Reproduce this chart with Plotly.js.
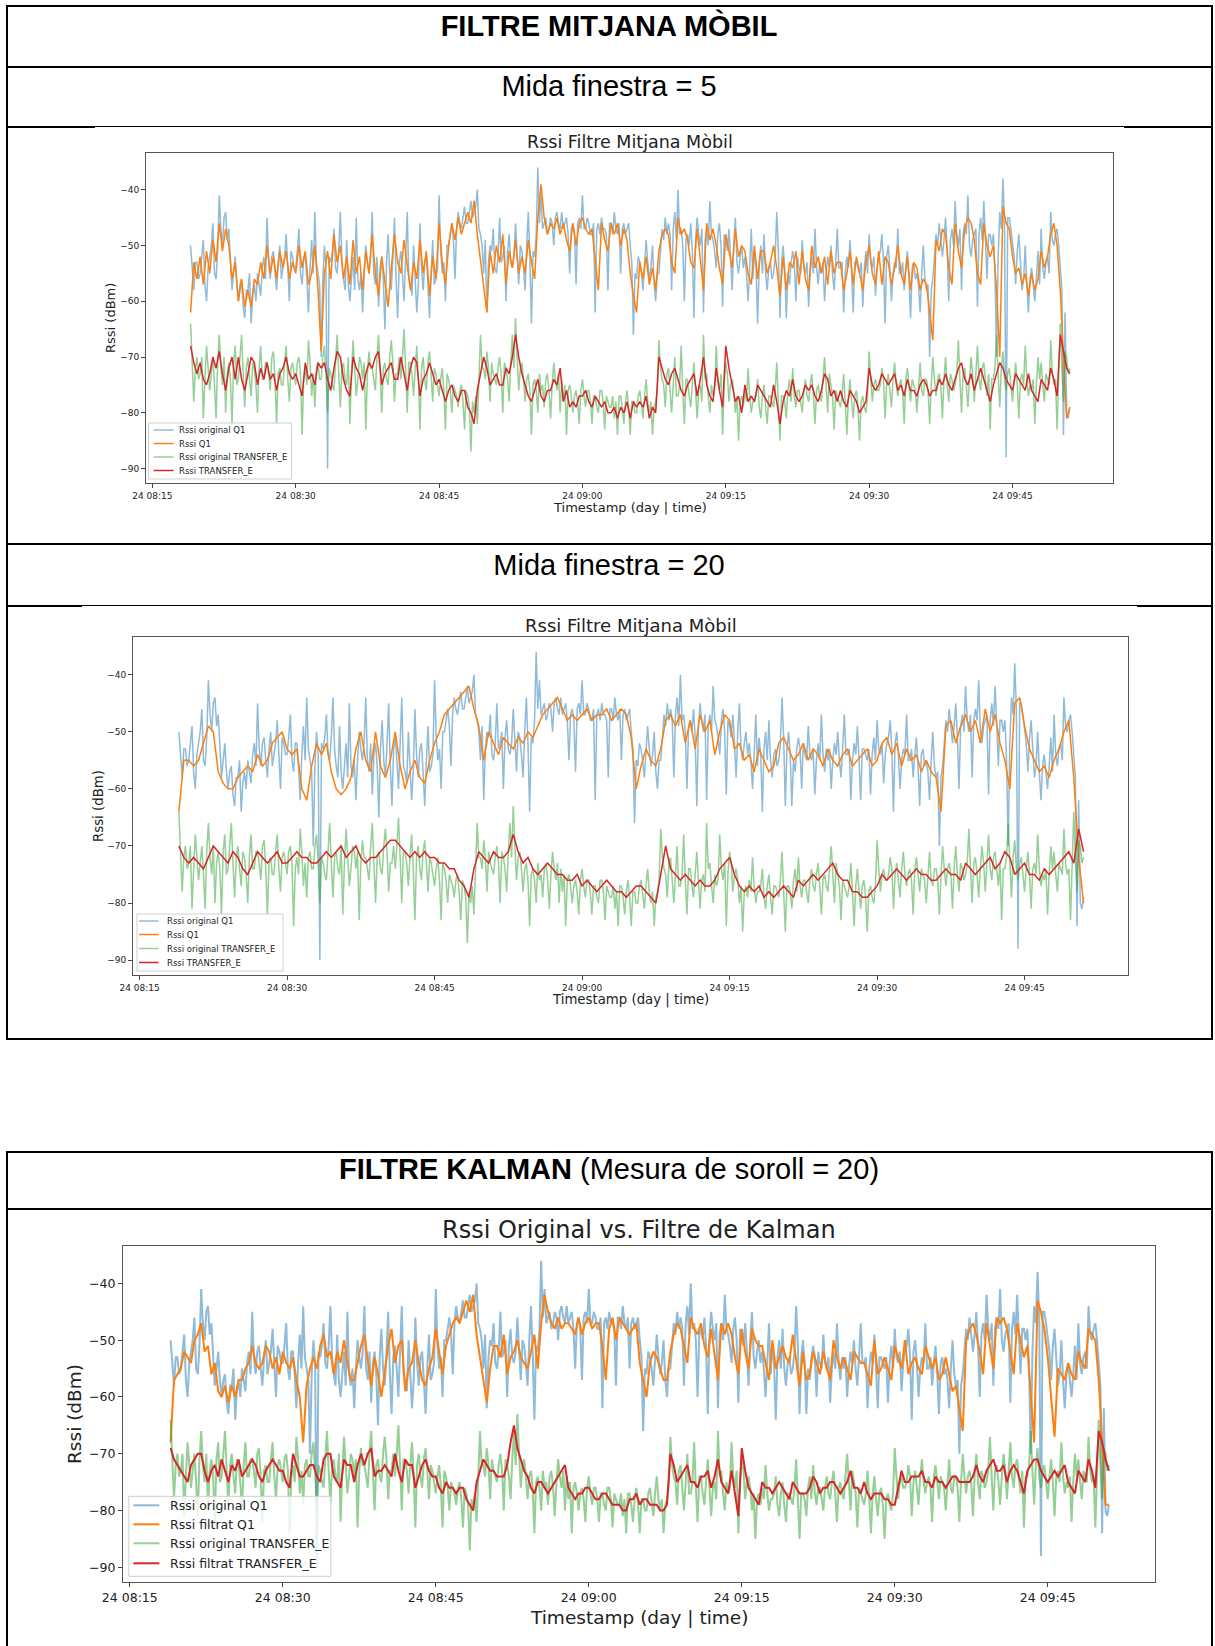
<!DOCTYPE html>
<html>
<head>
<meta charset="utf-8">
<script src="https://cdn.plot.ly/plotly-3.0.1.min.js"></script>
<style>
  body { margin: 0; background: #fff; }
  #page { position: relative; width: 1215px; height: 1646px; overflow: hidden; background: #fff; }
  .ln { position: absolute; background: #000; }
  .hdr { position: absolute; left: 8px; width: 1202px; text-align: center; white-space: nowrap;
         font-family: "Liberation Sans", Arial, sans-serif; font-size: 29px; line-height: 32px; color: #000; }
  .chart { position: absolute; }
</style>
</head>
<body>
<div id="page">
  <!-- table 1: moving average filter -->
  <div class="ln" style="left:6px;top:5px;width:1207px;height:2px"></div>
  <div class="ln" style="left:6px;top:66px;width:1207px;height:2px"></div>
  <div class="ln" style="left:6px;top:126px;width:89px;height:2px"></div>
  <div class="ln" style="left:95px;top:126px;width:1029px;height:1px"></div>
  <div class="ln" style="left:1124px;top:126px;width:89px;height:2px"></div>
  <div class="ln" style="left:6px;top:543px;width:1207px;height:2px"></div>
  <div class="ln" style="left:6px;top:605px;width:76px;height:2px"></div>
  <div class="ln" style="left:82px;top:605px;width:1055px;height:1px"></div>
  <div class="ln" style="left:1137px;top:605px;width:76px;height:2px"></div>
  <div class="ln" style="left:6px;top:1038px;width:1207px;height:2px"></div>
  <div class="ln" style="left:6px;top:5px;width:2px;height:1035px"></div>
  <div class="ln" style="left:1211px;top:5px;width:2px;height:1035px"></div>

  <div class="hdr" style="top:10px;font-weight:bold">FILTRE MITJANA MÒBIL</div>
  <div class="hdr" style="top:70px">Mida finestra = 5</div>
  <div class="hdr" style="top:549px">Mida finestra = 20</div>

  <div id="chartMM5" class="chart" style="left:95px;top:128px;width:1029px;height:412px"></div>
  <div id="chartMM20" class="chart" style="left:82px;top:607px;width:1055px;height:430px"></div>

  <!-- table 2: Kalman filter -->
  <div class="ln" style="left:6px;top:1151px;width:1207px;height:2px"></div>
  <div class="ln" style="left:6px;top:1208px;width:1207px;height:2px"></div>
  <div class="ln" style="left:6px;top:1151px;width:2px;height:495px"></div>
  <div class="ln" style="left:1211px;top:1151px;width:2px;height:495px"></div>

  <div class="hdr" style="top:1153px"><b>FILTRE KALMAN</b> (Mesura de soroll = 20)</div>

  <div id="chartKalman" class="chart" style="left:30px;top:1211px;width:1170px;height:435px"></div>
</div>

<script>
// RSSI (dBm). Raw readings: one sample every 10 s from 24 08:19:00, one row per minute.
const rawQ1 = [
  -50,-55,-58,-53,-53,-56, -55,-52,-49,-57,-60,-54, -52,-50,-46,-55,-56,-51, -41,-47,-50,-45,-44,-49, -47,-53,-58,-55,-52,-57,
  -60,-57,-56,-61,-63,-58, -58,-55,-64,-59,-57,-60, -55,-57,-59,-54,-52,-56, -45,-53,-56,-52,-51,-55, -58,-53,-50,-56,-54,-52,
  -48,-53,-60,-51,-52,-54, -54,-51,-47,-55,-57,-52, -52,-56,-62,-54,-49,-55, -44,-53,-55,-57,-70,-56, -50,-54,-90,-52,-53,-51,
  -47,-54,-55,-51,-44,-53, -56,-58,-49,-57,-60,-55, -52,-58,-45,-56,-58,-55, -62,-55,-50,-53,-55,-52, -44,-55,-57,-52,-61,-54,
  -52,-56,-65,-53,-48,-55, -58,-52,-45,-56,-63,-53, -51,-55,-60,-52,-44,-56, -57,-59,-50,-56,-62,-57, -46,-54,-58,-53,-52,-57,
  -63,-55,-49,-57,-56,-54, -41,-51,-55,-53,-60,-50, -50,-48,-46,-49,-56,-47, -44,-46,-47,-45,-43,-46, -46,-44,-42,-45,-44,-43,
  -40,-47,-48,-50,-55,-49, -62,-53,-50,-51,-47,-54, -55,-52,-45,-53,-52,-50, -60,-51,-48,-53,-54,-52, -46,-52,-57,-50,-51,-54,
  -58,-50,-44,-52,-64,-51, -52,-48,-36,-46,-41,-47, -46,-45,-48,-47,-45,-46, -50,-45,-44,-46,-47,-44, -47,-46,-45,-48,-55,-47,
  -46,-48,-57,-46,-45,-47, -41,-47,-47,-45,-46,-48, -48,-46,-62,-47,-46,-48, -45,-47,-47,-48,-58,-46, -46,-48,-44,-47,-48,-46,
  -55,-47,-46,-48,-47,-46, -50,-53,-66,-55,-56,-52, -53,-55,-58,-54,-49,-53, -56,-54,-50,-57,-60,-55, -55,-51,-47,-49,-45,-48,
  -46,-48,-58,-47,-44,-49, -40,-48,-47,-50,-60,-49, -48,-50,-46,-51,-63,-49, -45,-48,-50,-47,-62,-49, -47,-50,-42,-48,-49,-51,
  -54,-48,-46,-50,-61,-48, -49,-51,-47,-52,-58,-50, -45,-53,-55,-52,-50,-54, -52,-55,-60,-54,-47,-56, -51,-54,-64,-53,-50,-55,
  -48,-55,-58,-54,-53,-56, -55,-52,-44,-51,-63,-53, -50,-54,-63,-55,-57,-53, -51,-53,-60,-52,-54,-55, -49,-54,-55,-53,-61,-55,
  -52,-55,-47,-54,-57,-53, -55,-53,-60,-55,-52,-54, -50,-55,-58,-53,-47,-54, -54,-53,-62,-55,-52,-54, -49,-55,-62,-53,-53,-54,
  -55,-53,-61,-54,-51,-55, -48,-53,-54,-52,-59,-54, -52,-51,-48,-53,-64,-52, -50,-54,-60,-55,-53,-54, -47,-55,-55,-53,-58,-54,
  -51,-56,-63,-54,-53,-56, -55,-57,-62,-55,-50,-56, -58,-57,-70,-58,-56,-52, -48,-50,-46,-49,-52,-49, -45,-51,-60,-49,-47,-50,
  -42,-48,-50,-47,-58,-48, -46,-48,-41,-50,-52,-49, -48,-47,-61,-48,-45,-49, -42,-50,-56,-48,-48,-50, -48,-55,-70,-52,-44,-47,
  -38,-46,-88,-45,-45,-47, -50,-52,-57,-51,-48,-53, -58,-56,-50,-57,-62,-56, -54,-57,-60,-56,-51,-57, -47,-54,-56,-53,-52,-55,
  -44,-49,-50,-48,-47,-50, -55,-58,-84,-62,-80,-81,
  -79
];

const rawTE = [
  -64,-70,-78,-72,-70,-74, -73,-70,-81,-74,-68,-72, -76,-73,-70,-75,-81,-71, -66,-72,-75,-70,-80,-73, -71,-74,-82,-71,-68,-75,
  -74,-70,-66,-73,-79,-72, -70,-74,-77,-71,-72,-75, -80,-72,-68,-74,-74,-71, -71,-73,-76,-70,-69,-74, -82,-73,-72,-75,-75,-71,
  -68,-74,-78,-72,-71,-73, -75,-71,-70,-73,-84,-74, -72,-75,-67,-71,-77,-73, -79,-72,-71,-74,-74,-70, -68,-73,-80,-72,-73,-75,
  -76,-71,-66,-73,-79,-72, -71,-74,-75,-70,-82,-73, -67,-72,-77,-74,-70,-71, -74,-71,-83,-73,-69,-72, -72,-74,-76,-70,-66,-73,
  -80,-72,-71,-74,-75,-70, -67,-71,-78,-73,-73,-70, -74,-70,-65,-72,-80,-71, -71,-73,-77,-72,-68,-74, -83,-72,-70,-74,-76,-71,
  -69,-73,-78,-72,-73,-75, -77,-74,-72,-76,-83,-73, -74,-76,-80,-75,-76,-77, -79,-76,-75,-78,-83,-76, -77,-79,-87,-78,-80,-77,
  -82,-75,-66,-72,-72,-74, -69,-72,-78,-71,-73,-74, -75,-72,-70,-73,-80,-71, -72,-74,-78,-71,-66,-72, -63,-70,-76,-72,-71,-74,
  -78,-74,-73,-76,-84,-75, -74,-76,-80,-73,-76,-75, -79,-74,-73,-76,-81,-75, -71,-74,-76,-73,-80,-74, -78,-75,-84,-76,-75,-77,
  -80,-77,-76,-78,-82,-76, -74,-77,-79,-76,-76,-78, -82,-77,-77,-79,-80,-76, -76,-78,-83,-77,-78,-79, -79,-77,-81,-78,-84,-77,
  -77,-79,-82,-78,-76,-79, -84,-78,-78,-80,-80,-77, -76,-79,-81,-77,-74,-78, -80,-78,-84,-79,-78,-76, -67,-72,-74,-75,-79,-73,
  -72,-76,-80,-75,-70,-77, -77,-75,-68,-76,-82,-74, -74,-77,-79,-75,-71,-76, -81,-76,-75,-78,-66,-74, -73,-77,-80,-75,-77,-76,
  -68,-74,-76,-73,-84,-75, -71,-73,-78,-75,-74,-76, -80,-77,-85,-78,-77,-79, -76,-78,-72,-77,-80,-78, -78,-77,-74,-79,-81,-77,
  -75,-79,-82,-77,-77,-78, -79,-76,-71,-78,-85,-77, -77,-78,-81,-76,-74,-78, -72,-77,-79,-76,-76,-78, -80,-76,-74,-77,-78,-75,
  -73,-77,-82,-76,-75,-77, -78,-74,-70,-75,-80,-73, -75,-77,-83,-76,-77,-78, -79,-77,-73,-78,-84,-77, -74,-78,-81,-77,-76,-79,
  -85,-78,-77,-79,-80,-77, -69,-74,-78,-75,-74,-76, -76,-75,-72,-74,-81,-75, -73,-76,-79,-74,-71,-75, -77,-75,-74,-76,-82,-74,
  -72,-75,-78,-74,-75,-76, -80,-75,-71,-76,-77,-74, -74,-76,-82,-75,-70,-74, -77,-74,-73,-75,-81,-74, -70,-75,-78,-73,-74,-76,
  -75,-73,-67,-74,-80,-73, -72,-75,-79,-74,-70,-73, -78,-73,-68,-74,-76,-72, -71,-74,-77,-73,-83,-74, -74,-72,-66,-73,-79,-72,
  -69,-74,-76,-73,-72,-75, -78,-74,-71,-75,-81,-74, -73,-75,-68,-74,-77,-75, -76,-74,-82,-75,-70,-74, -71,-75,-78,-73,-74,-75,
  -67,-73,-75,-74,-83,-72, -64,-72,-78,-69,-70,-73,
  -72
];

// Moving average, window 5: one value every 20 s from 24 08:19:00.
const mm5Q1 = [
  -62,-53,-56, -52,-57,-51, -55,-49,-53, -46,-51,-47, -50,-56,-53,
  -60,-56,-61, -58,-61,-56, -57,-53,-56, -50,-55,-52, -56,-51,-54,
  -51,-56,-53, -55,-50,-54, -51,-57,-55, -50,-58,-69, -55,-51,-56,
  -48,-53,-50, -56,-52,-57, -49,-55,-52, -58,-51,-55, -48,-55,-59,
  -52,-57,-61, -54,-48,-53, -55,-49,-54, -58,-53,-56, -49,-55,-51,
  -59,-52,-56, -46,-53,-57, -50,-46,-49, -45,-48,-46, -44,-46,-42,
  -48,-53,-58, -62,-51,-55, -50,-53,-48, -57,-51,-54, -49,-55,-52,
  -55,-49,-53, -56,-45,-39, -45,-48,-46, -47,-45,-48, -46,-49,-51,
  -46,-50,-46, -45,-47,-48, -47,-52,-58, -46,-49,-51, -46,-48,-46,
  -50,-47,-49, -55,-59,-62, -53,-56,-52, -57,-54,-58, -51,-48,-47,
  -48,-53,-55, -45,-48,-47, -49,-53,-54, -47,-52,-58, -46,-49,-47,
  -50,-54,-57, -48,-51,-54, -47,-52,-50, -51,-55,-57, -50,-56,-51,
  -51,-55,-53, -50,-54,-59, -52,-58,-53, -54,-51,-57, -51,-56,-58,
  -50,-54,-52, -55,-52,-57, -51,-55,-53, -53,-58,-55, -51,-57,-52,
  -55,-58,-53, -50,-55,-57, -51,-57,-52, -53,-57,-54, -50,-55,-57,
  -52,-58,-53, -54,-58,-56, -57,-62,-67, -49,-51,-47, -48,-54,-57,
  -46,-51,-54, -47,-45,-46, -49,-55,-57, -46,-50,-52, -50,-58,-70,
  -43,-46,-47, -52,-55,-54, -57,-55,-59, -55,-58,-56, -51,-54,-52,
  -48,-46,-50, -58,-70,-81,
  -79
];

const mm5TE = [
  -68,-71,-73, -71,-74,-75, -73,-70,-72, -69,-73,-76, -72,-70,-74,
  -70,-74,-76, -73,-70,-71, -75,-72,-74, -71,-74,-73, -76,-73,-72,
  -70,-73,-74, -73,-75,-77, -71,-74,-73, -75,-71,-72, -71,-74,-76,
  -72,-69,-70, -74,-76,-77, -70,-72,-73, -76,-73,-71, -72,-70,-69,
  -75,-73,-72, -71,-74,-74, -70,-73,-76, -72,-70,-71, -77,-74,-73,
  -71,-73,-75, -74,-76,-78, -76,-75,-77, -78,-76,-76, -79,-80,-82,
  -76,-73,-70, -72,-75,-74, -73,-75,-75, -72,-73,-70, -66,-70,-73,
  -75,-77,-78, -76,-74,-77, -78,-76,-76, -74,-75,-72, -78,-76,-79,
  -78,-79,-77, -77,-76,-78, -79,-77,-78, -79,-78,-80, -80,-79,-81,
  -79,-80,-78, -81,-78,-79, -78,-79,-77, -81,-79,-80, -70,-72,-74,
  -75,-73,-72, -74,-76,-77, -75,-74,-73, -77,-74,-70, -75,-77,-78,
  -72,-76,-79, -68,-72,-75, -78,-77,-80, -75,-78,-77, -78,-75,-76,
  -77,-78,-79, -75,-78,-82, -78,-76,-77, -74,-77,-78, -77,-75,-76,
  -75,-77,-78, -76,-73,-74, -77,-76,-78, -76,-78,-79, -76,-77,-78,
  -80,-79,-78, -72,-75,-76, -75,-73,-74, -75,-74,-73, -76,-75,-77,
  -74,-76,-76, -77,-75,-74, -75,-77,-76, -76,-74,-75, -73,-75,-76,
  -74,-72,-71, -74,-75,-73, -76,-74,-72, -74,-76,-78, -75,-73,-71,
  -72,-74,-75, -76,-73,-74, -75,-76,-73, -76,-77,-78, -74,-75,-76,
  -72,-74,-77, -66,-69,-72,
  -73
];

// Moving average, window 20: one value every 30 s from 24 08:19:00.
const mm20Q1 = [
  -64,-55, -55,-56, -55,-52, -49,-50, -57,-59,
  -60,-60, -58,-57, -56,-57, -54,-56, -55,-52,
  -51,-50, -53,-54, -53,-60, -62,-56, -52,-54,
  -52,-57, -60,-61, -60,-58, -53,-50, -55,-57,
  -50,-56, -58,-55, -50,-56, -60,-57, -55,-58,
  -59,-55, -52,-50, -47,-46, -45,-44, -43,-42,
  -46,-49, -55,-50, -52,-54, -51,-52, -53,-51,
  -52,-50, -51,-49, -47,-46, -45,-44, -46,-48,
  -47,-48, -47,-46, -48,-47, -47,-46, -48,-47,
  -46,-47, -51,-60, -56,-53, -55,-56, -53,-48,
  -47,-49, -47,-52, -48,-53, -47,-50, -48,-54,
  -50,-47, -48,-53, -52,-55, -54,-57, -53,-55,
  -57,-56, -52,-51, -53,-55, -54,-52, -55,-53,
  -54,-56, -53,-55, -56,-54, -53,-56, -55,-54,
  -53,-56, -55,-52, -51,-54, -52,-56, -53,-55,
  -54,-57, -55,-57, -58,-64, -49,-48, -52,-49,
  -47,-50, -48,-52, -46,-50, -47,-52, -55,-60,
  -45,-44, -49,-53, -55,-57, -56,-58, -55,-53,
  -50,-48, -58,-72,
  -80
];

const mm20TE = [
  -70,-72, -73,-72, -73,-74, -72,-70, -71,-72,
  -73,-71, -72,-74, -75,-73, -71,-72, -73,-72,
  -71,-73, -73,-72, -71,-72, -72,-73, -73,-72,
  -71,-72, -71,-70, -72,-71, -70,-72, -73,-72,
  -72,-71, -70,-69, -69,-70, -71,-72, -71,-72,
  -71,-72, -72,-73, -73,-74, -74,-76, -77,-79,
  -74,-71, -72,-73, -71,-72, -72,-71, -68,-71,
  -73,-72, -74,-75, -74,-73, -74,-75, -75,-76,
  -76,-75, -77,-76, -77,-78, -77,-76, -77,-78,
  -78,-79, -78,-77, -77,-78, -79,-80, -75,-70,
  -74,-75, -76,-75, -76,-77, -76,-77, -77,-76,
  -74,-73, -72,-75, -77,-78, -77,-78, -77,-79,
  -78,-79, -78,-77, -78,-79, -76,-77, -76,-75,
  -76,-75, -74,-73, -75,-76, -76,-78, -78,-79,
  -79,-78, -77,-75, -76,-75, -74,-75, -76,-75,
  -74,-75, -75,-76, -76,-75, -74,-75, -75,-76,
  -73,-74, -75,-74, -73,-72, -74,-73, -71,-72,
  -75,-74, -73,-75, -75,-76, -74,-75, -74,-73,
  -72,-71, -73,-67,
  -71
];

// Kalman filter output: one value every 20 s from 24 08:19:00.
const kalQ1 = [
  -68,-57,-56, -55,-52,-53, -54,-50,-49, -47,-52,-51, -56,-54,-59,
  -60,-58,-61, -58,-60,-57, -57,-55,-54, -51,-54,-55, -54,-51,-52,
  -55,-53,-56, -52,-54,-55, -53,-57,-60, -68,-58,-55, -53,-55,-51,
  -49,-53,-52, -56,-52,-54, -50,-54,-57, -57,-54,-51, -49,-54,-58,
  -53,-56,-60, -55,-51,-48, -54,-51,-50, -59,-55,-54, -50,-54,-57,
  -58,-55,-53, -48,-52,-56, -51,-49,-47, -46,-47,-45, -43,-45,-42,
  -49,-53,-57, -61,-55,-51, -51,-53,-49, -56,-53,-52, -50,-53,-54,
  -55,-52,-49, -55,-47,-42, -45,-47,-48, -46,-48,-47, -47,-48,-49,
  -46,-49,-47, -46,-48,-47, -47,-51,-57, -48,-46,-50, -46,-47,-48,
  -49,-48,-47, -54,-57,-60, -54,-52,-53, -55,-57,-57, -52,-49,-47,
  -48,-51,-54, -46,-48,-49, -47,-51,-53, -48,-53,-57, -47,-49,-47,
  -49,-53,-56, -48,-52,-55, -48,-50,-51, -51,-54,-57, -50,-55,-53,
  -51,-53,-54, -49,-54,-58, -52,-57,-56, -52,-54,-56, -52,-55,-57,
  -50,-53,-55, -53,-55,-57, -52,-53,-54, -54,-56,-58, -50,-56,-55,
  -53,-55,-57, -51,-53,-55, -50,-56,-54, -53,-55,-56, -51,-53,-55,
  -53,-57,-56, -53,-56,-59, -58,-62,-66, -50,-48,-47, -49,-52,-56,
  -47,-51,-55, -46,-47,-46, -48,-52,-56, -47,-50,-53, -51,-60,-68,
  -43,-45,-48, -53,-60,-67, -55,-56,-57, -54,-56,-57, -52,-54,-55,
  -48,-49,-50, -57,-68,-79,
  -79
];

const kalTE = [
  -69,-71,-72, -73,-74,-75, -72,-71,-70, -70,-73,-75, -73,-72,-74,
  -71,-73,-75, -72,-73,-71, -74,-73,-72, -71,-72,-74, -75,-73,-72,
  -71,-72,-73, -73,-75,-76, -70,-72,-74, -74,-73,-72, -72,-74,-75,
  -71,-70,-70, -74,-75,-76, -71,-72,-72, -75,-72,-70, -72,-70,-69,
  -74,-73,-73, -72,-73,-74, -70,-73,-75, -71,-72,-72, -76,-74,-72,
  -71,-73,-74, -74,-76,-77, -75,-76,-76, -77,-76,-76, -78,-79,-80,
  -75,-73,-71, -72,-73,-73, -74,-74,-74, -72,-68,-65, -69,-71,-73,
  -74,-76,-77, -75,-75,-76, -77,-76,-75, -74,-73,-72, -76,-77,-78,
  -77,-77,-76, -76,-77,-78, -78,-77,-77, -78,-79,-79, -79,-80,-80,
  -78,-78,-77, -79,-78,-78, -79,-79,-79, -80,-80,-79, -70,-72,-75,
  -74,-73,-72, -75,-75,-76, -74,-74,-73, -76,-74,-71, -75,-76,-77,
  -73,-77,-81, -69,-73,-76, -77,-78,-79, -75,-76,-76, -77,-76,-75,
  -76,-77,-78, -75,-76,-77, -77,-77,-76, -74,-75,-77, -76,-76,-75,
  -75,-76,-77, -76,-75,-73, -76,-76,-77, -75,-77,-78, -77,-77,-77,
  -78,-78,-79, -79,-76,-73, -75,-75,-74, -74,-74,-73, -75,-75,-76,
  -74,-75,-75, -76,-75,-74, -74,-75,-75, -75,-75,-74, -72,-74,-75,
  -73,-72,-71, -73,-73,-72, -75,-73,-72, -73,-75,-77, -73,-72,-71,
  -71,-73,-74, -75,-74,-73, -74,-73,-72, -75,-76,-77, -73,-74,-75,
  -71,-73,-76, -66,-68,-71,
  -73
];

const yTicks = [-90, -80, -70, -60, -50, -40];
const xRange = ['2021-05-24 08:14:20', '2021-05-24 09:55:31'];
const yRange = [-92.6, -33.4];

const COLORS = {
  blue: 'rgba(31,119,180,0.5)',
  orange: '#ff7f0e',
  green: 'rgba(44,160,44,0.5)',
  red: '#d62728'
};
const FONT = '"DejaVu Sans", Verdana, sans-serif';

// timestamps for a series sampled at a fixed step from 08:19:00
function timeAxis(n, stepSec) {
  const base = Date.UTC(2021, 4, 24, 8, 19, 0);
  const out = [];
  for (let i = 0; i < n; i++) {
    out.push(new Date(base + i * stepSec * 1000).toISOString().slice(0, 19).replace('T', ' '));
  }
  return out;
}

function drawChart(id, s) {
  const W = s.width, H = s.height, m = s.margin;
  const pw = W - m.l - m.r, ph = H - m.t - m.b;
  const px = v => v / pw;
  const py = v => 1 - v / ph;

  const names = s.names;
  const cols = [COLORS.blue, COLORS.orange, COLORS.green, COLORS.red];
  const ys = [rawQ1, s.q1, rawTE, s.te];
  const steps = [10, s.step, 10, s.step];

  const traces = ys.map((y, i) => ({
    type: 'scatter', mode: 'lines',
    x: timeAxis(y.length, steps[i]), y: y,
    name: names[i],
    line: { color: cols[i], width: s.lw },
    hoverinfo: 'skip'
  }));

  // legend box drawn inside the plot area (lower left)
  const lg = s.legend;
  const shapes = [{
    type: 'rect', xref: 'paper', yref: 'paper', layer: 'above',
    x0: px(lg.box[0]), x1: px(lg.box[2]), y0: py(lg.box[3]), y1: py(lg.box[1]),
    line: { color: '#cfcfcf', width: 1 }, fillcolor: 'rgba(255,255,255,0.8)'
  }];
  const annotations = [];
  lg.rows.forEach((ry, i) => {
    shapes.push({
      type: 'line', xref: 'paper', yref: 'paper', layer: 'above',
      x0: px(lg.line[0]), x1: px(lg.line[1]), y0: py(ry), y1: py(ry),
      line: { color: cols[i], width: s.lw }
    });
    annotations.push({
      xref: 'paper', yref: 'paper', x: px(lg.text), y: py(ry),
      xanchor: 'left', yanchor: 'middle', showarrow: false,
      text: names[i], font: { family: FONT, size: lg.size, color: '#222' }
    });
  });

  annotations.push({
    xref: 'paper', yref: 'paper', x: 0.5, y: 1, yshift: s.titleGap,
    xanchor: 'center', yanchor: 'middle', showarrow: false,
    text: s.title, font: { family: FONT, size: s.titleSize, color: '#222' }
  });
  annotations.push({
    xref: 'paper', yref: 'paper', x: 0.5, y: 0, yshift: -s.xTitleGap,
    xanchor: 'center', yanchor: 'middle', showarrow: false,
    text: 'Timestamp (day | time)', font: { family: FONT, size: s.axisSize, color: '#222' }
  });
  annotations.push({
    xref: 'paper', yref: 'paper', x: 0, y: 0.5, xshift: -s.yTitleGap,
    xanchor: 'center', yanchor: 'middle', showarrow: false, textangle: -90,
    text: 'Rssi (dBm)', font: { family: FONT, size: s.axisSize, color: '#222' }
  });

  const axisBase = {
    showline: true, mirror: true, linecolor: '#555', linewidth: 1,
    showgrid: false, zeroline: false, automargin: false,
    ticks: 'outside', ticklen: s.ticklen, tickwidth: 1, tickcolor: '#444',
    tickfont: { family: FONT, size: s.tickSize, color: '#222' }
  };

  const layout = {
    width: W, height: H, margin: m,
    paper_bgcolor: 'rgba(0,0,0,0)', plot_bgcolor: '#ffffff',
    showlegend: false,
    font: { family: FONT, color: '#222' },
    xaxis: Object.assign({}, axisBase, {
      type: 'date', range: xRange,
      tick0: '2021-05-24 08:15:00', dtick: 15 * 60 * 1000,
      tickformat: '%d %H:%M'
    }),
    yaxis: Object.assign({}, axisBase, {
      range: yRange, tickvals: yTicks
    }),
    shapes: shapes,
    annotations: annotations
  };

  Plotly.newPlot(id, traces, layout, { staticPlot: true, displayModeBar: false });
}

drawChart('chartMM5', {
  width: 1029, height: 412, margin: { l: 51, r: 11, t: 25, b: 57, pad: 0 },
  q1: mm5Q1, te: mm5TE, step: 20,
  names: ['Rssi original Q1', 'Rssi Q1', 'Rssi original TRANSFER_E', 'Rssi TRANSFER_E'],
  title: 'Rssi Filtre Mitjana Mòbil',
  titleSize: 17.5, axisSize: 13, tickSize: 9, ticklen: 4, lw: 1.5,
  titleGap: 11, xTitleGap: 24, yTitleGap: 36,
  legend: { box: [2.6, 270, 145.6, 326], rows: [277, 290.5, 304, 317.5], line: [7.6, 27.6], text: 31, size: 8.5 }
});

drawChart('chartMM20', {
  width: 1055, height: 430, margin: { l: 51, r: 9, t: 30, b: 62, pad: 0 },
  q1: mm20Q1, te: mm20TE, step: 30,
  names: ['Rssi original Q1', 'Rssi Q1', 'Rssi original TRANSFER_E', 'Rssi TRANSFER_E'],
  title: 'Rssi Filtre Mitjana Mòbil',
  titleSize: 18, axisSize: 13.3, tickSize: 9, ticklen: 4, lw: 1.5,
  titleGap: 11.5, xTitleGap: 24.5, yTitleGap: 35,
  legend: { box: [4, 277, 150, 334], rows: [284, 297.5, 311.5, 325.5], line: [6, 25.6], text: 32, size: 8.5 }
});

drawChart('chartKalman', {
  width: 1170, height: 435, margin: { l: 93, r: 45, t: 35, b: 64, pad: 0 },
  q1: kalQ1, te: kalTE, step: 20,
  names: ['Rssi original Q1', 'Rssi filtrat Q1', 'Rssi original TRANSFER_E', 'Rssi filtrat TRANSFER_E'],
  title: 'Rssi Original vs. Filtre de Kalman',
  titleSize: 24, axisSize: 18.5, tickSize: 12.5, ticklen: 4, lw: 2,
  titleGap: 16, xTitleGap: 35, yTitleGap: 49,
  legend: { box: [5.8, 250.3, 207.8, 330.3], rows: [259.3, 278.3, 297.3, 317.3], line: [10.4, 36.4], text: 45.4, size: 12.5 }
});
</script>
</body>
</html>
